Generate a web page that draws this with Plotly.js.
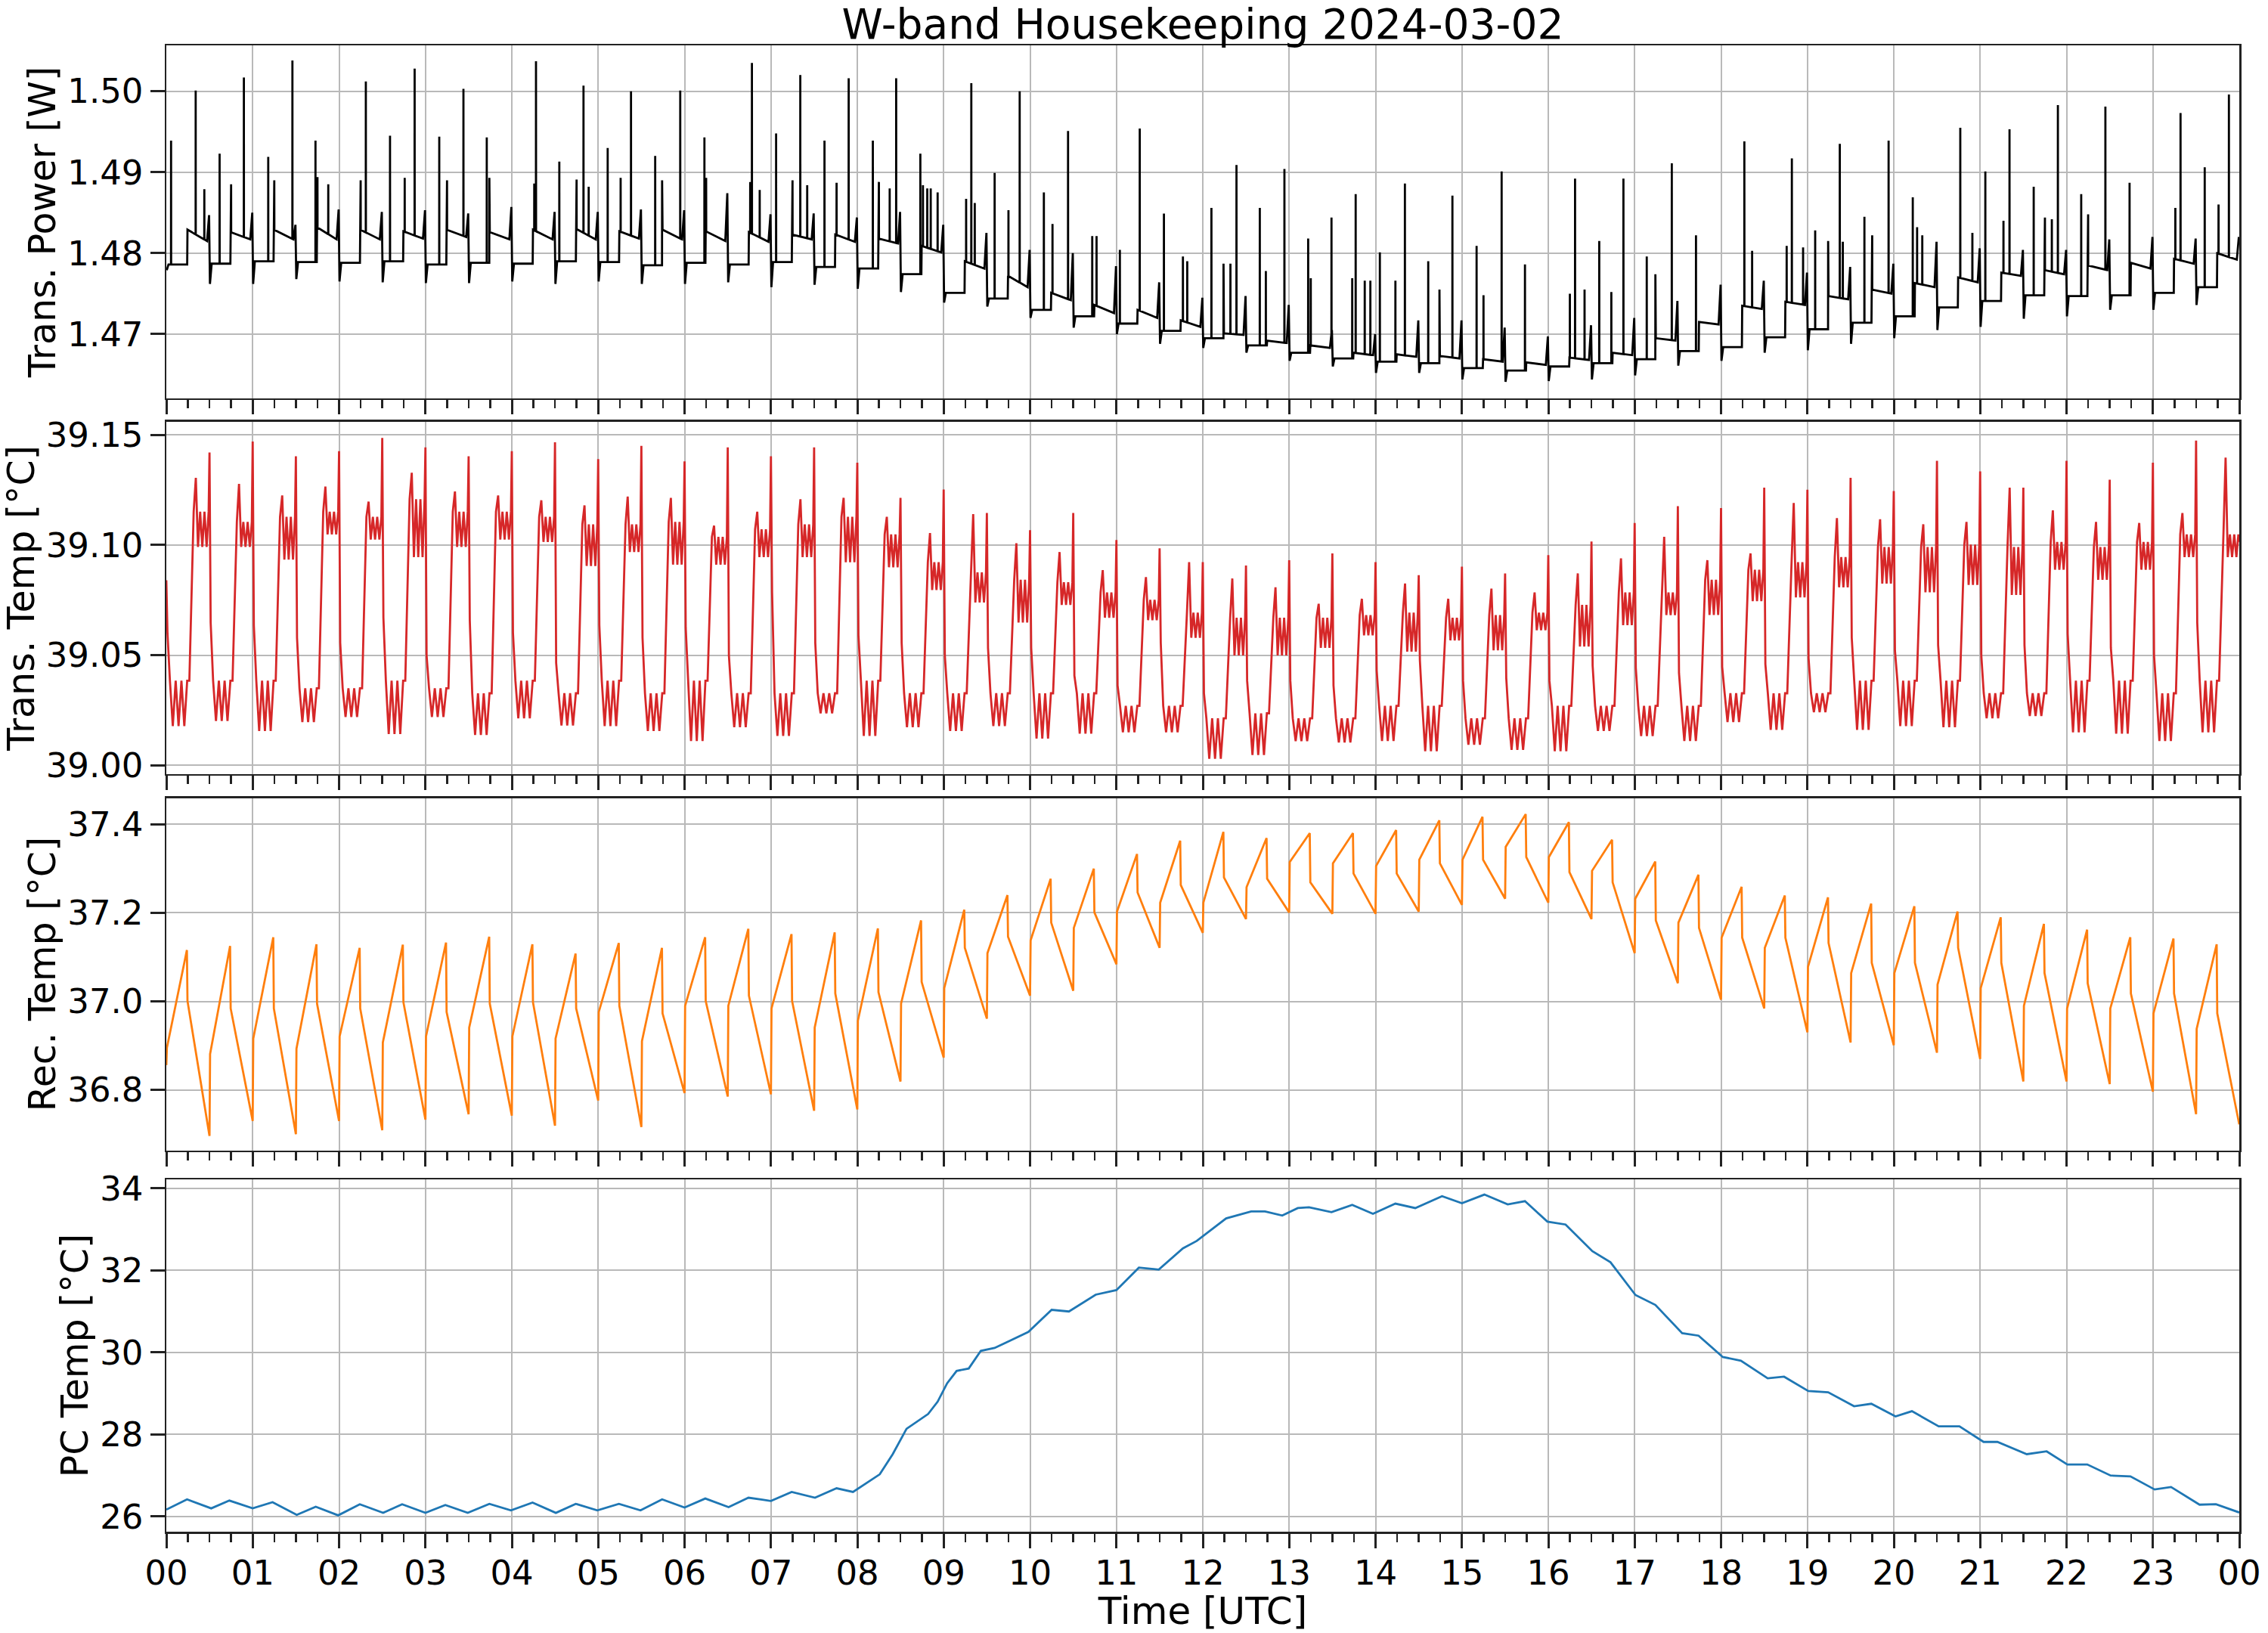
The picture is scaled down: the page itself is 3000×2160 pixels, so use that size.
<!DOCTYPE html>
<html>
<head>
<meta charset="utf-8">
<script src="https://cdn.plot.ly/plotly-3.0.1.min.js"></script>
<style>
  html, body { margin: 0; padding: 0; background: #fff; }
  #plot { width: 3000px; height: 2160px; }
</style>
</head>
<body>
<div id="plot"></div>
<script>
const FONT = 'DejaVu Sans';
const DAY0 = Date.UTC(2024, 2, 2);
const MIN = 60000;
const HOUR = 60 * MIN;

// ---- Trans. Power [W]: levels per half-hour cycle (48 cycles) ----
const pwDip   = [1.4779,1.4762,1.4762,1.4768,1.4765,1.4764,1.4763,1.4763,1.4765,1.4762,1.4765,1.4762,1.4762,1.4764,1.4758,1.4761,1.4756,1.4752,1.4739,1.4734,1.4720,1.4708,1.4700,1.4688,1.4683,1.4677,1.4667,1.4660,1.4652,1.4652,1.4644,1.4641,1.4642,1.4644,1.4649,1.4661,1.4667,1.4677,1.4680,1.4688,1.4695,1.4705,1.4709,1.4719,1.4722,1.4730,1.4730,1.4736];
const pwLow   = [1.4786,1.4787,1.4790,1.4789,1.4788,1.4790,1.4786,1.4788,1.4787,1.4790,1.4789,1.4785,1.4788,1.4786,1.4789,1.4783,1.4781,1.4774,1.4751,1.4744,1.4730,1.4722,1.4713,1.4704,1.4695,1.4686,1.4677,1.4670,1.4666,1.4664,1.4658,1.4655,1.4660,1.4664,1.4669,1.4679,1.4684,1.4696,1.4706,1.4714,1.4722,1.4733,1.4741,1.4748,1.4747,1.4748,1.4751,1.4758];
const pwHighA = [1.4829,1.4826,1.4829,1.4832,1.4829,1.4827,1.4829,1.4826,1.4829,1.4830,1.4827,1.4829,1.4827,1.4826,1.4823,1.4823,1.4818,1.4809,1.4790,1.4772,1.4751,1.4736,1.4730,1.4717,1.4701,1.4692,1.4686,1.4677,1.4675,1.4673,1.4669,1.4665,1.4671,1.4677,1.4695,1.4715,1.4735,1.4740,1.4747,1.4755,1.4763,1.4770,1.4776,1.4779,1.4785,1.4788,1.4793,1.4800];
const pwHighB = [1.4815,1.4817,1.4817,1.4817,1.4817,1.4818,1.4820,1.4817,1.4817,1.4817,1.4818,1.4817,1.4815,1.4814,1.4817,1.4814,1.4812,1.4801,1.4781,1.4758,1.4742,1.4726,1.4720,1.4709,1.4699,1.4689,1.4683,1.4674,1.4672,1.4670,1.4666,1.4662,1.4668,1.4674,1.4692,1.4712,1.4731,1.4736,1.4743,1.4750,1.4758,1.4764,1.4772,1.4774,1.4779,1.4781,1.4787,1.4792];
const pwRamp  = [1.4847,1.4850,1.4835,1.4854,1.4851,1.4853,1.4849,1.4857,1.4851,1.4851,1.4854,1.4853,1.4874,1.4848,1.4849,1.4844,1.4851,1.4835,1.4825,1.4804,1.4800,1.4784,1.4764,1.4745,1.4747,1.4736,1.4705,1.4700,1.4717,1.4717,1.4708,1.4697,1.4711,1.4720,1.4741,1.4761,1.4766,1.4776,1.4783,1.4787,1.4814,1.4806,1.4804,1.4804,1.4817,1.4820,1.4818,1.4820];
const pwPhaseMin = [0.3, 1.5, 14.5, 14.7, 28.3, 29.7];

// short power spikes: hour of day and peak value
const spikeHour = [0.055,0.34,0.44,0.617,0.75,0.898,1.18,1.25,1.46,1.727,1.75,1.875,2.25,2.31,2.59,2.76,2.875,3.16,3.25,3.44,3.71,3.74,4.26,4.28,4.55,4.75,4.83,4.89,5.11,5.26,5.38,5.66,5.74,5.95,6.23,6.25,6.76,6.78,6.87,7.06,7.25,7.34,7.42,7.62,7.76,7.90,8.18,8.25,8.375,8.45,8.73,8.76,8.81,8.85,8.93,9.26,9.32,9.36,9.59,9.75,9.88,10.16,10.26,10.44,10.72,10.77,11.04,11.27,11.55,11.77,11.82,
  12.10,12.24,12.32,12.39,12.66,12.73,12.945,13.22,13.25,13.49,13.73,13.77,13.875,13.94,14.05,14.23,14.34,14.61,14.74,14.89,15.17,15.25,15.46,15.73,16.25,16.31,16.42,16.59,16.73,16.87,17.14,17.24,17.43,17.71,18.27,18.36,18.76,18.82,18.95,19.09,19.24,19.375,19.41,19.66,19.75,19.94,20.22,20.27,20.33,20.77,20.91,21.06,21.27,21.34,21.62,21.75,21.83,21.90,22.17,22.25,22.45,22.73,23.26,23.32,23.60,23.76,23.88];
const spikeVal = [1.4939,1.5001,1.4879,1.4923,1.4885,1.5017,1.4919,1.4890,1.5038,1.4939,1.4894,1.4885,1.4890,1.5012,1.4945,1.4893,1.5028,1.4944,1.4890,1.5003,1.4943,1.4893,1.4886,1.5037,1.4913,1.4891,1.5007,1.4882,1.4930,1.4893,1.5000,1.4920,1.4890,1.5001,1.4943,1.4893,1.4888,1.5035,1.4878,1.4948,1.4890,1.5020,1.4884,1.4939,1.4887,1.5016,1.4939,1.4888,1.4880,1.5016,1.4923,1.4884,1.4880,1.4880,1.4875,1.4867,1.5010,1.4862,1.4899,1.4853,1.5000,1.4875,1.4836,1.4951,1.4821,1.4821,1.4804,1.4954,1.4849,1.4796,1.4790,
  1.4856,1.4787,1.4787,1.4909,1.4856,1.4778,1.4904,1.4818,1.4769,1.4844,1.4769,1.4873,1.4766,1.4766,1.4801,1.4766,1.4886,1.4790,1.4755,1.4871,1.4809,1.4748,1.4901,1.4786,1.4750,1.4892,1.4755,1.4815,1.4752,1.4892,1.4796,1.4774,1.4911,1.4822,1.4938,1.4803,1.4809,1.4917,1.4807,1.4828,1.4815,1.4935,1.4814,1.4845,1.4822,1.4939,1.4869,1.4832,1.4822,1.4955,1.4825,1.4901,1.4840,1.4953,1.4882,1.4844,1.4842,1.4983,1.4873,1.4848,1.4981,1.4887,1.4856,1.4973,1.4906,1.4860,1.4996];

// ---- Trans. Temp [°C]: per half-hour cycle ----
const tSpike   = [39.084,39.142,39.147,39.1403,39.1426,39.1486,39.1443,39.1403,39.1426,39.1466,39.139,39.145,39.138,39.1443,39.1403,39.1443,39.1374,39.1214,39.1252,39.1145,39.1067,39.1145,39.1023,39.0985,39.0922,39.0907,39.0931,39.0962,39.0922,39.0863,39.0902,39.0871,39.0954,39.1016,39.110,39.1176,39.1168,39.126,39.1251,39.1305,39.1245,39.1382,39.1334,39.126,39.1382,39.1296,39.1374,39.1474];
const tDrop    = [39.060,39.0648,39.0636,39.0579,39.0556,39.0670,39.0499,39.0659,39.0602,39.0465,39.0636,39.0579,39.0625,39.0499,39.0785,39.0556,39.0590,39.0556,39.0499,39.0533,39.0533,39.0407,39.0362,39.0556,39.0327,39.0384,39.0384,39.0362,39.0430,39.0476,39.0384,39.0396,39.0384,39.0453,39.0442,39.0419,39.0447,39.0459,39.0487,39.0579,39.0522,39.0545,39.0499,39.0545,39.0596,39.0533,39.0499,39.0648];
const tLow     = [39.0384,39.0384,39.0384,39.0350,39.0350,39.0384,39.0350,39.0327,39.0384,39.0327,39.0384,39.0327,39.0384,39.0327,39.0327,39.0327,39.0384,39.0327,39.0327,39.0327,39.0327,39.0327,39.0270,39.0270,39.0213,39.0236,39.0213,39.0213,39.0270,39.0270,39.0213,39.0213,39.0270,39.0270,39.0270,39.0270,39.0327,39.0327,39.0327,39.0384,39.0384,39.0384,39.0327,39.0327,39.0384,39.0384,39.0327,39.0384];
const tMin     = [39.0178,39.0201,39.0156,39.0196,39.0219,39.0142,39.0219,39.0138,39.0213,39.0181,39.0178,39.0156,39.0110,39.0173,39.0133,39.0236,39.0133,39.0173,39.0156,39.0178,39.0121,39.0144,39.0150,39.0150,39.0030,39.0047,39.0110,39.0104,39.0110,39.0064,39.0093,39.0070,39.0064,39.0156,39.0133,39.0110,39.0196,39.0161,39.0241,39.0161,39.0178,39.0173,39.0213,39.0224,39.0150,39.0144,39.0110,39.0150];
const tHighMax = [39.1305,39.1277,39.1225,39.1265,39.1197,39.1328,39.1243,39.1225,39.1203,39.1180,39.1220,39.1214,39.1088,39.1151,39.1208,39.1214,39.1128,39.1054,39.1140,39.1008,39.0968,39.0886,39.0854,39.0922,39.0848,39.0808,39.0733,39.0756,39.0825,39.0756,39.0802,39.0785,39.0871,39.0939,39.1037,39.0931,39.0962,39.1191,39.1122,39.1117,39.1094,39.1105,39.1260,39.1157,39.1105,39.1100,39.1145,39.1397];
const tHigh    = [39.1151,39.1105,39.1128,39.1151,39.1128,39.1208,39.1151,39.1151,39.1128,39.1094,39.1094,39.1105,39.1037,39.1071,39.1094,39.1128,39.1048,39.0922,39.0876,39.0842,39.0831,39.0785,39.0751,39.0693,39.0670,39.0670,39.0670,39.0682,39.0693,39.0670,39.0682,39.0693,39.0728,39.0785,39.0785,39.0842,39.0888,39.0922,39.0945,39.0991,39.0991,39.1002,39.0991,39.1014,39.0991,39.1014,39.1048,39.1048];
const tHighDip = [39.0991,39.0991,39.0934,39.1048,39.1025,39.0945,39.0991,39.1025,39.1014,39.0905,39.0968,39.0911,39.0911,39.0945,39.0945,39.0922,39.0899,39.0796,39.0739,39.0648,39.0728,39.0670,39.0659,39.0579,39.0499,39.0499,39.0533,39.0590,39.0516,39.0567,39.0522,39.0613,39.0539,39.0636,39.0682,39.0682,39.0745,39.0762,39.0808,39.0825,39.0785,39.0819,39.0773,39.0888,39.0842,39.0888,39.0945,39.0945];
const tEnd = 39.1014;
// noisy low band, steep rise, noisy high band, spike at the half hour
const tPhaseMin = [0, 0.8, 2.5, 4.5, 6.5, 8.5, 10.5, 12.5, 14.5, 16, 19, 20.5, 22, 23.5, 25, 26.5, 28, 29.4];

// ---- Rec. Temp [°C]: trough at each half hour (49), jump, peak, drop per cycle (48) ----
const recTrough = [36.856,36.696,36.730,36.700,36.730,36.709,36.733,36.745,36.742,36.719,36.776,36.716,36.793,36.785,36.790,36.753,36.756,36.819,36.873,36.961,37.013,37.024,37.084,37.121,37.155,37.186,37.201,37.198,37.198,37.203,37.218,37.232,37.223,37.186,37.109,37.041,37.004,36.984,36.930,36.907,36.901,36.884,36.870,36.819,36.819,36.813,36.796,36.745,36.722];
const recJump   = [36.895,36.881,36.916,36.893,36.921,36.907,36.921,36.941,36.921,36.916,36.976,36.910,36.990,36.990,36.984,36.941,36.956,36.995,37.030,37.109,37.138,37.166,37.203,37.223,37.223,37.258,37.315,37.312,37.306,37.320,37.320,37.349,37.326,37.295,37.232,37.178,37.144,37.121,37.078,37.064,37.064,37.038,37.030,36.990,36.984,36.984,36.973,36.938];
const recPeak   = [37.116,37.125,37.145,37.129,37.121,37.128,37.133,37.146,37.129,37.108,37.132,37.121,37.145,37.164,37.152,37.156,37.165,37.183,37.207,37.240,37.277,37.300,37.333,37.363,37.383,37.369,37.380,37.380,37.387,37.409,37.417,37.423,37.405,37.365,37.316,37.286,37.259,37.239,37.235,37.221,37.215,37.203,37.190,37.175,37.162,37.145,37.142,37.129];
const recDrop   = [37.001,36.984,36.984,36.995,36.984,36.998,36.976,36.995,36.998,36.984,36.990,36.973,37.001,37.013,37.001,37.018,37.021,37.044,37.121,37.146,37.178,37.201,37.246,37.263,37.280,37.277,37.269,37.289,37.289,37.312,37.320,37.326,37.292,37.269,37.183,37.166,37.144,37.144,37.132,37.087,37.087,37.121,37.087,37.064,37.041,37.018,37.018,36.973];
const recPhaseMin = [0, 0.4, 14.3, 14.7];

// ---- PC Temp [°C] ----
const pcHour = [0.00,0.24,0.52,0.73,1.00,1.23,1.51,1.73,1.99,2.24,2.51,2.73,3.00,3.23,3.49,3.74,3.99,4.24,4.51,4.74,4.99,5.24,5.49,5.74,6.00,6.24,6.51,6.74,6.90,7.00,7.24,7.51,7.76,7.95,8.26,8.41,8.57,8.70,8.82,8.93,9.04,9.15,9.29,9.43,9.59,9.77,9.98,10.25,10.45,10.76,11.00,11.26,11.49,11.77,11.93,12.27,12.56,12.72,12.92,13.10,13.23,13.49,13.73,13.97,14.23,14.46,14.77,15.00,15.26,15.53,15.73,15.99,16.20,16.51,16.72,17.01,17.24,17.55,17.74,18.02,18.23,18.54,18.73,19.01,19.24,19.54,19.74,20.02,20.21,20.52,20.76,21.04,21.20,21.54,21.77,22.01,22.24,22.51,22.74,23.02,23.21,23.54,23.73,24.00];
const pcTemp = [26.17,26.42,26.20,26.39,26.20,26.35,26.04,26.24,26.03,26.30,26.09,26.30,26.09,26.28,26.09,26.31,26.15,26.34,26.09,26.31,26.15,26.31,26.15,26.42,26.22,26.44,26.23,26.46,26.41,26.38,26.60,26.46,26.69,26.60,27.03,27.52,28.14,28.32,28.50,28.80,29.25,29.55,29.61,30.04,30.11,30.29,30.50,31.04,31.00,31.41,31.52,32.07,32.02,32.54,32.72,33.27,33.44,33.44,33.34,33.52,33.54,33.42,33.60,33.38,33.63,33.52,33.81,33.64,33.85,33.61,33.69,33.19,33.12,32.47,32.20,31.40,31.16,30.47,30.41,29.89,29.80,29.37,29.41,29.06,29.03,28.69,28.75,28.44,28.57,28.20,28.20,27.82,27.82,27.52,27.59,27.27,27.27,27.00,26.98,26.66,26.72,26.29,26.30,26.10];

// one point per phase of every half-hour cycle, in minutes from midnight
function cycleSeries(phaseMin, columns) {
  const t = [], v = [];
  for (let k = 0; k < columns[0].length; k++) {
    phaseMin.forEach((p, j) => { t.push(30 * k + p); v.push(columns[j][k]); });
  }
  return { t, v };
}

// place each spike on the baseline it rises from
function addSpikes(base, hours, peaks) {
  const pts = base.t.map((t, i) => [t, base.v[i]]);
  hours.forEach((h, n) => {
    const ts = h * 60;
    let i = 0;
    while (i < base.t.length - 2 && base.t[i + 1] <= ts) i++;
    const f = (ts - base.t[i]) / (base.t[i + 1] - base.t[i]);
    const b = base.v[i] + (base.v[i + 1] - base.v[i]) * f;
    pts.push([ts - 0.05, b], [ts, peaks[n]], [ts + 0.05, b]);
  });
  pts.sort((a, b) => a[0] - b[0]);
  return { t: pts.map(p => p[0]), v: pts.map(p => p[1]) };
}

const toX = mins => mins.map(m => DAY0 + m * MIN);

const power = addSpikes(
  cycleSeries(pwPhaseMin, [pwDip, pwLow, pwLow, pwHighA, pwHighB, pwRamp]),
  spikeHour, spikeVal);

const trans = cycleSeries(tPhaseMin, [tSpike, tDrop, tLow, tMin, tLow, tMin, tLow, tMin, tLow, tLow,
                                      tHigh, tHighMax, tHighDip, tHigh, tHighDip, tHigh, tHighDip, tHigh]);
trans.t.push(1440); trans.v.push(tEnd);

const rec = cycleSeries(recPhaseMin, [recTrough.slice(0, 48), recJump, recPeak, recDrop]);
rec.t.push(1440); rec.v.push(recTrough[48]);

const LW = 2.8;
const data = [
  { type: 'scatter', mode: 'lines', x: toX(power.t), y: power.v, xaxis: 'x', yaxis: 'y',
    line: { color: '#000000', width: LW } },
  { type: 'scatter', mode: 'lines', x: toX(trans.t), y: trans.v, xaxis: 'x2', yaxis: 'y2',
    line: { color: '#d62728', width: LW } },
  { type: 'scatter', mode: 'lines', x: toX(rec.t), y: rec.v, xaxis: 'x3', yaxis: 'y3',
    line: { color: '#ff7f0e', width: LW } },
  { type: 'scatter', mode: 'lines', x: toX(pcHour.map(h => h * 60)), y: pcTemp, xaxis: 'x4', yaxis: 'y4',
    line: { color: '#1f77b4', width: LW } }
];

const axisStyle = {
  showline: true, mirror: true, linecolor: '#222', linewidth: 2.5,
  ticks: 'outside', ticklen: 19, tickwidth: 3, tickcolor: '#222',
  showgrid: true, gridcolor: '#b9b9b9', gridwidth: 2, zeroline: false,
  automargin: false,
  tickfont: { family: FONT, size: 45, color: '#000' }
};

function xAxis(anchor, showLabels) {
  const ax = Object.assign({}, axisStyle, {
    type: 'date', anchor, domain: [0, 1],
    range: [DAY0, DAY0 + 24 * HOUR], tick0: DAY0, dtick: HOUR, tickformat: '%H',
    showticklabels: showLabels,
    minor: { ticks: 'outside', ticklen: 11, tickwidth: 2.5, tickcolor: '#222',
             dtick: 15 * MIN, tick0: DAY0, showgrid: false }
  });
  if (showLabels) {
    ax.ticklabelstandoff = -6;
    ax.title = { text: 'Time [UTC]', font: { family: FONT, size: 50, color: '#000' }, standoff: 18 };
  }
  return ax;
}

function yAxis(anchor, domain, range, dtick, tick0, fmt, title, standoff) {
  return Object.assign({}, axisStyle, {
    anchor, domain, range, dtick, tick0, tickformat: fmt,
    title: { text: title, font: { family: FONT, size: 49, color: '#000' }, standoff }
  });
}

const layout = {
  width: 3000, height: 2160,
  margin: { l: 220, r: 38, t: 60, b: 134 },
  paper_bgcolor: '#fff', plot_bgcolor: '#fff',
  showlegend: false,
  font: { family: FONT, size: 45, color: '#000' },
  title: { text: 'W-band Housekeeping 2024-03-02', font: { family: FONT, size: 55, color: '#000' },
           x: 0.5, xref: 'paper', xanchor: 'center', y: 0.9852, yref: 'container', yanchor: 'middle' },
  xaxis: xAxis('y', false),
  xaxis2: xAxis('y2', false),
  xaxis3: xAxis('y3', false),
  xaxis4: xAxis('y4', true),
  yaxis: yAxis('x', [0.7626, 1], [1.46208, 1.50567], 0.01, 1.47, '.2f', 'Trans. Power [W]', 0),
  yaxis2: yAxis('x2', [0.5097, 0.7467], [38.996, 39.1559], 0.05, 39, '.2f', 'Trans. Temp [°C]', 12),
  yaxis3: yAxis('x3', [0.2566, 0.4936], [36.6636, 37.4594], 0.2, 36.8, '.1f', 'Rec. Temp [°C]', 0),
  yaxis4: yAxis('x4', [0, 0.2370], [25.631, 34.219], 2, 26, 'd', 'PC Temp [°C]', 0)
};

Plotly.newPlot('plot', data, layout, { displayModeBar: false, staticPlot: true });
</script>
</body>
</html>
